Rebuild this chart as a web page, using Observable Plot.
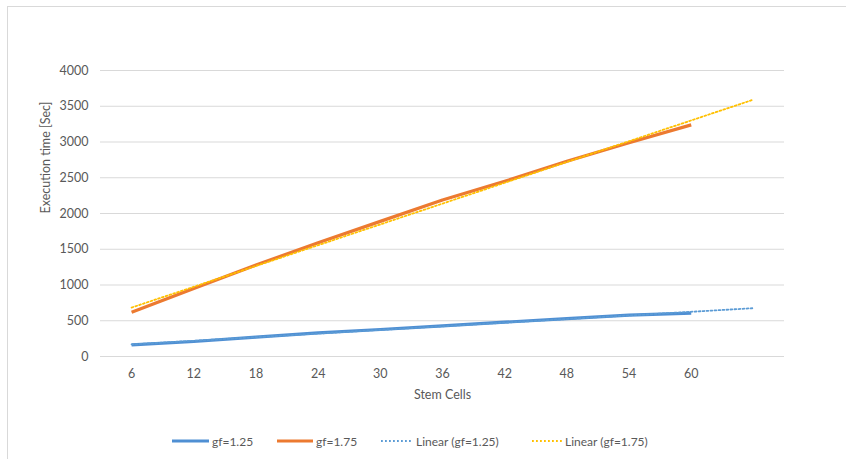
<!DOCTYPE html>
<html>
<head>
<meta charset="utf-8">
<script src="https://cdn.jsdelivr.net/npm/d3@7"></script>
<script src="https://cdn.jsdelivr.net/npm/@observablehq/plot@0.6"></script>
<style>
  html, body { margin: 0; padding: 0; background: #fff; }
  #wrap { position: relative; width: 846px; height: 459px; overflow: hidden; font-family: Lato, "Open Sans", sans-serif; }
  #frame { position: absolute; left: 7px; top: 6px; width: 900px; height: 500px; border-left: 1px solid #d9d9d9; border-top: 1px solid #d9d9d9; }
  #chart { position: absolute; left: 0; top: 0; }
  .leg { position: absolute; top: 432px; height: 18px; display: flex; align-items: center; font-size: 12px; color: #595959; white-space: nowrap; }
  .leg svg { margin-right: 3px; }
</style>
</head>
<body>
<div id="wrap">
  <div id="frame"></div>
  <div id="chart"></div>
  <div id="legend"></div>
</div>
<script>
// Categories (Stem Cells) and series values (Execution time [Sec])
const categories = ["6", "12", "18", "24", "30", "36", "42", "48", "54", "60"];
const gf125 = [163, 210, 270, 330, 378, 427, 480, 530, 578, 606];
const gf175 = [620, 950, 1280, 1590, 1890, 2190, 2450, 2730, 2990, 3240];
const yTicks = [0, 500, 1000, 1500, 2000, 2500, 3000, 3500, 4000];
const forecastPeriods = 1;
const seriesNames = ["gf=1.25", "gf=1.75", "Linear (gf=1.25)", "Linear (gf=1.75)"];

const blue = "#4f8fd3";
const orange = "#ec7a30";
const blueTrend = "#5b9bd5";
const yellowTrend = "#ffc000";

// least-squares linear trend over category index, extended by the forecast period
function trend(values) {
  const n = values.length;
  const xs = values.map((_, i) => i);
  const mx = d3.mean(xs), my = d3.mean(values);
  const sxy = d3.sum(xs, (x, i) => (x - mx) * (values[i] - my));
  const sxx = d3.sum(xs, x => (x - mx) ** 2);
  const b = sxy / sxx, a = my - b * mx;
  return [0, n - 1 + forecastPeriods].map(i => ({i, v: a + b * i}));
}

const rows = s => s.map((v, i) => ({i, v}));
const nSlots = categories.length + forecastPeriods;

const chart = Plot.plot({
  width: 846,
  height: 420,
  marginLeft: 100,
  marginRight: 62,
  marginTop: 70,
  marginBottom: 64,
  style: { fontFamily: "Lato, 'Open Sans', sans-serif", fontSize: "12px", color: "#595959", background: "transparent" },
  x: { type: "linear", domain: [-0.5, nSlots - 0.5] },
  y: { domain: [0, 4000] },
  marks: [
    Plot.gridY(yTicks, { stroke: "#d9d9d9", strokeOpacity: 1, strokeWidth: 1 }),
    Plot.axisY(yTicks, { tickSize: 0, tickPadding: 12, fontSize: 12.5, label: null, tickFormat: d => String(d) }),
    Plot.axisX(d3.range(categories.length), { tickSize: 0, tickPadding: 13, fontSize: 12.5, tickFormat: i => categories[i], label: null }),
    Plot.text(["Execution time [Sec]"], { frameAnchor: "left", dx: -55, rotate: -90, fontSize: 12.5, fill: "#595959" }),
    Plot.text(["Stem Cells"], { frameAnchor: "bottom", dy: 42, fontSize: 12.5, fill: "#595959" }),
    Plot.line(rows(gf125), { x: "i", y: "v", stroke: blue, strokeWidth: 3.2, strokeLinecap: "butt" }),
    Plot.line(rows(gf175), { x: "i", y: "v", stroke: orange, strokeWidth: 3.2, strokeLinecap: "butt" }),
    Plot.line(trend(gf125), { x: "i", y: "v", stroke: blueTrend, strokeWidth: 1.8, strokeDasharray: "1.8 2.2" }),
    Plot.line(trend(gf175), { x: "i", y: "v", stroke: yellowTrend, strokeWidth: 1.8, strokeDasharray: "1.8 2.2" })
  ]
});
document.getElementById("chart").appendChild(chart);

// Legend (HTML, below the SVG)
const legendItems = [
  { name: seriesNames[0], color: blue, dash: null, width: 3.2, left: 172, len: 37 },
  { name: seriesNames[1], color: orange, dash: null, width: 3.2, left: 277, len: 36 },
  { name: seriesNames[2], color: blueTrend, dash: "1.8 2.2", width: 1.8, left: 381, len: 32 },
  { name: seriesNames[3], color: yellowTrend, dash: "1.8 2.2", width: 1.8, left: 532, len: 30 }
];
const legend = document.getElementById("legend");
for (const it of legendItems) {
  const div = document.createElement("div");
  div.className = "leg";
  div.style.left = it.left + "px";
  div.innerHTML = `<svg width="${it.len}" height="6"><line x1="0" y1="3" x2="${it.len}" y2="3" stroke="${it.color}" stroke-width="${it.width}" ${it.dash ? `stroke-dasharray="${it.dash}"` : ""}/></svg><span>${it.name}</span>`;
  legend.appendChild(div);
}
</script>
</body>
</html>
